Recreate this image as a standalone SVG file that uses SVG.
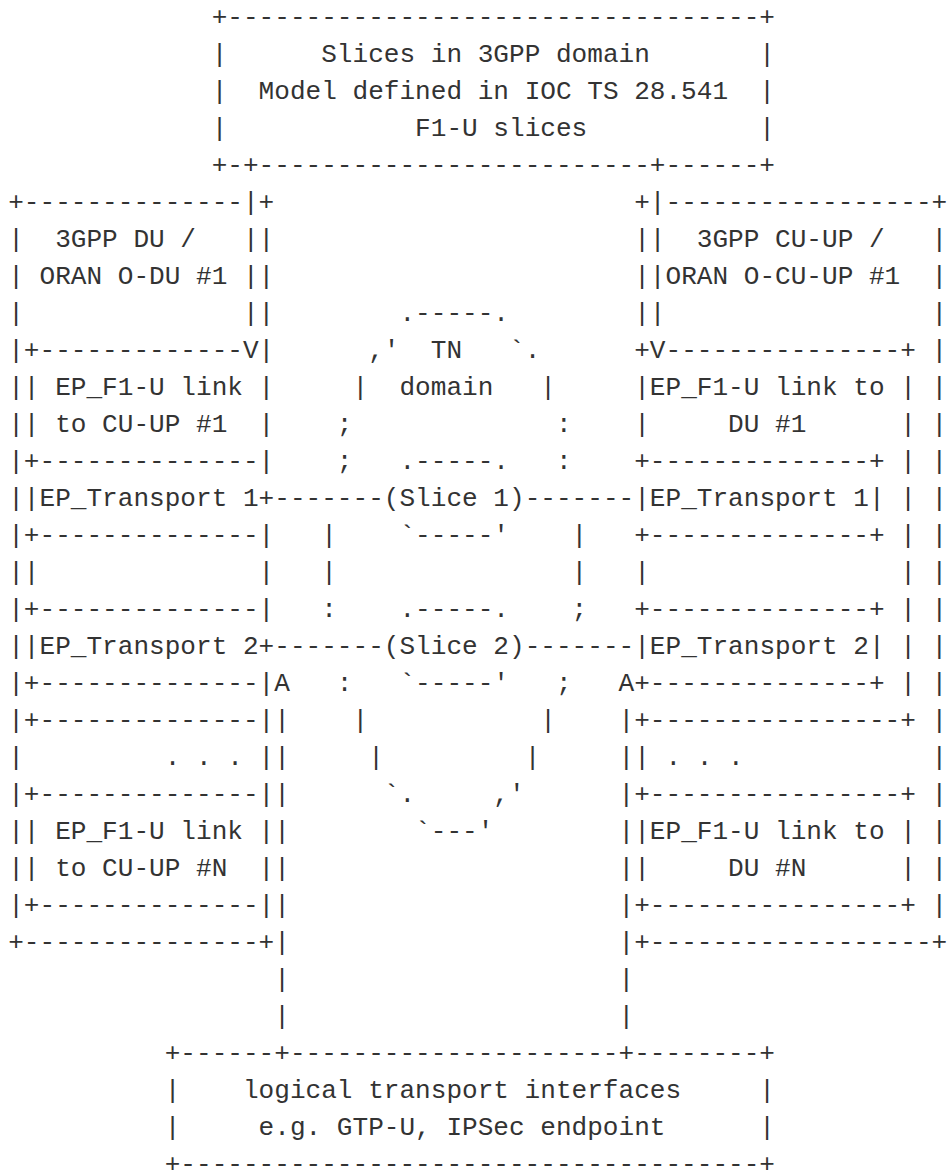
<svg xmlns="http://www.w3.org/2000/svg" width="947" height="1173" viewBox="0 0 947 1173" xml:space="preserve">
<style>
text{font-family:"Liberation Mono","DejaVu Sans Mono",monospace;font-size:26.08px;fill:#333;white-space:pre}
</style>
<rect width="947" height="1173" fill="#fff"/>
<g id="top-box">
<text x="211.65" y="25">+----------------------------------+</text>
<text x="211.65" y="62">|      Slices in 3GPP domain       |</text>
<text x="211.65" y="99">|  Model defined in IOC TS 28.541  |</text>
<text x="211.65" y="136">|            F1-U slices           |</text>
<text x="211.65" y="173">+-+-------------------------+------+</text>
</g>
<g id="du-box">
<text x="8.2" y="210">+--------------</text><text x="258.6" y="210">+</text>
<text x="8.2" y="247">|  3GPP DU /</text><text x="258.6" y="247">|</text>
<text x="8.2" y="284">| ORAN O-DU #1</text><text x="258.6" y="284">|</text>
<text x="8.2" y="321">|</text><text x="258.6" y="321">|</text>
<text x="8.2" y="358">|+-------------</text><text x="258.6" y="358">|</text>
<text x="8.2" y="395">|| EP_F1-U link |</text>
<text x="8.2" y="432">|| to CU-UP #1  |</text>
<text x="8.2" y="469">|+--------------|</text>
<text x="8.2" y="506">||EP_Transport 1+</text>
<text x="8.2" y="543">|+--------------|</text>
<text x="8.2" y="580">||              |</text>
<text x="8.2" y="617">|+--------------|</text>
<text x="8.2" y="654">||EP_Transport 2+</text>
<text x="8.2" y="691">|+--------------|</text>
<text x="8.2" y="728">|+--------------|</text>
<text x="8.2" y="765">|         . . . |</text>
<text x="8.2" y="802">|+--------------|</text>
<text x="8.2" y="839">|| EP_F1-U link |</text>
<text x="8.2" y="876">|| to CU-UP #N  |</text>
<text x="8.2" y="913">|+--------------|</text>
<text x="8.2" y="950">+---------------+</text>
</g>
<g id="cu-box">
<text x="634.2" y="210">+</text><text x="665.5" y="210">-----------------+</text>
<text x="634.2" y="247">|</text><text x="665.5" y="247">  3GPP CU-UP /   |</text>
<text x="634.2" y="284">|</text><text x="665.5" y="284">ORAN O-CU-UP #1  |</text>
<text x="634.2" y="321">|</text><text x="931.55" y="321">|</text>
<text x="634.2" y="358">+</text><text x="665.5" y="358">---------------+ |</text>
<text x="634.2" y="395">|EP_F1-U link to | |</text>
<text x="634.2" y="432">|     DU #1      | |</text>
<text x="634.2" y="469">+--------------+ | |</text>
<text x="634.2" y="506">|EP_Transport 1| | |</text>
<text x="634.2" y="543">+--------------+ | |</text>
<text x="634.2" y="580">|                | |</text>
<text x="634.2" y="617">+--------------+ | |</text>
<text x="634.2" y="654">|EP_Transport 2| | |</text>
<text x="634.2" y="691">+--------------+ | |</text>
<text x="634.2" y="728">+----------------+ |</text>
<text x="634.2" y="765">| . . .            |</text>
<text x="634.2" y="802">+----------------+ |</text>
<text x="634.2" y="839">|EP_F1-U link to | |</text>
<text x="634.2" y="876">|     DU #N      | |</text>
<text x="634.2" y="913">+----------------+ |</text>
<text x="634.2" y="950">+------------------+</text>
</g>
<g id="tn-domain">
<text x="399.45" y="321">.-----.</text>
<text x="368.15" y="358">,'  TN   `.</text>
<text x="352.5" y="395">|  domain   |</text>
<text x="336.85" y="432">;             :</text>
<text x="336.85" y="469">;</text><text x="555.95" y="469">:</text>
<text x="321.2" y="543">|</text><text x="571.6" y="543">|</text>
<text x="321.2" y="580">|</text><text x="571.6" y="580">|</text>
<text x="321.2" y="617">:</text><text x="571.6" y="617">;</text>
<text x="336.85" y="691">:</text><text x="555.95" y="691">;</text>
<text x="352.5" y="728">|           |</text>
<text x="368.15" y="765">|         |</text>
<text x="383.8" y="802">`.     ,'</text>
<text x="415.1" y="839">`---'</text>
</g>
<g id="slice-1">
<text x="399.45" y="469">.-----.</text>
<text x="383.8" y="506">(Slice 1)</text>
<text x="399.45" y="543">`-----'</text>
</g>
<g id="slice-2">
<text x="399.45" y="617">.-----.</text>
<text x="383.8" y="654">(Slice 2)</text>
<text x="399.45" y="691">`-----'</text>
</g>
<g id="bottom-box">
<text x="164.7" y="1061">+------+---------------------+--------+</text>
<text x="164.7" y="1098">|    logical transport interfaces     |</text>
<text x="164.7" y="1135">|     e.g. GTP-U, IPSec endpoint      |</text>
<text x="164.7" y="1172">+-------------------------------------+</text>
</g>
<g id="connectors">
<text x="242.95" y="210">|</text>
<text x="242.95" y="247">|</text>
<text x="242.95" y="284">|</text>
<text x="242.95" y="321">|</text>
<text x="242.95" y="358">V</text>
<text x="649.85" y="210">|</text>
<text x="649.85" y="247">|</text>
<text x="649.85" y="284">|</text>
<text x="649.85" y="321">|</text>
<text x="649.85" y="358">V</text>
<text x="274.25" y="506">-------</text>
<text x="524.65" y="506">-------</text>
<text x="274.25" y="654">-------</text>
<text x="524.65" y="654">-------</text>
<text x="274.25" y="691">A</text>
<text x="274.25" y="728">|</text>
<text x="274.25" y="765">|</text>
<text x="274.25" y="802">|</text>
<text x="274.25" y="839">|</text>
<text x="274.25" y="876">|</text>
<text x="274.25" y="913">|</text>
<text x="274.25" y="950">|</text>
<text x="274.25" y="987">|</text>
<text x="274.25" y="1024">|</text>
<text x="618.55" y="691">A</text>
<text x="618.55" y="728">|</text>
<text x="618.55" y="765">|</text>
<text x="618.55" y="802">|</text>
<text x="618.55" y="839">|</text>
<text x="618.55" y="876">|</text>
<text x="618.55" y="913">|</text>
<text x="618.55" y="950">|</text>
<text x="618.55" y="987">|</text>
<text x="618.55" y="1024">|</text>
</g>
</svg>
